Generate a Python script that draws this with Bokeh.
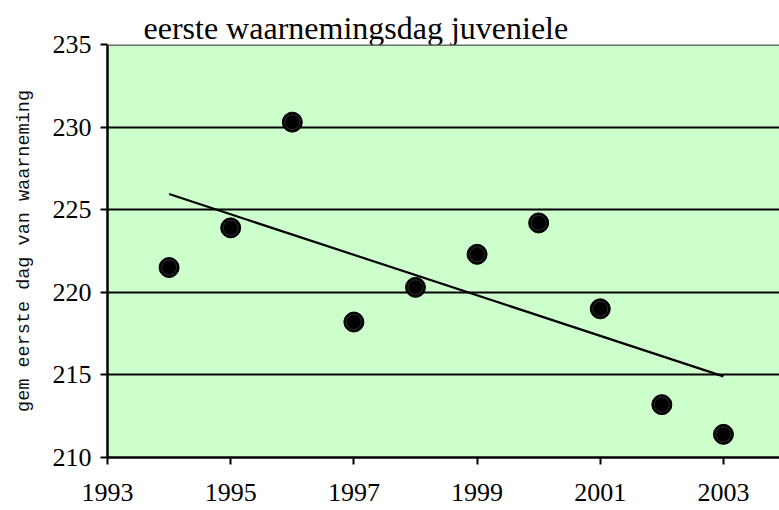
import numpy as np
from bokeh.plotting import figure
from bokeh.models import FixedTicker, Span, Range1d, Title
from bokeh.embed import file_html
from bokeh.resources import INLINE

years = [1994, 1995, 1996, 1997, 1998, 1999, 2000, 2001, 2002, 2003]
first_day = [221.5, 223.9, 230.3, 218.2, 220.3, 222.3, 224.2, 219.0, 213.2, 211.4]
x_ticks = [1993, 1995, 1997, 1999, 2001, 2003]
y_ticks = [210, 215, 220, 225, 230, 235]
title_text = "eerste waarnemingsdag juveniele"
y_label = "gem eerste dag van waarneming"

p = figure(width=779, height=510, output_backend="svg", toolbar_location=None,
           x_range=Range1d(1993, 2003.91), y_range=Range1d(210, 235),
           min_border_left=107, min_border_right=0, min_border_top=44, min_border_bottom=53)
p.background_fill_color = "#ccffcc"
p.border_fill_color = "white"
p.outline_line_color = None

t = Title(text=title_text, align="left", offset=36,
          text_font="Liberation Serif", text_font_size="32px",
          text_font_style="normal", text_color="black", standoff=-2)
p.add_layout(t, "above")
p.title.visible = False

# axes
for ax in (p.xaxis, p.yaxis):
    ax.axis_line_color = "black"
    ax.axis_line_width = 2.5
    ax.major_tick_line_color = "black"
    ax.major_tick_line_width = 2
    ax.major_tick_in = 0
    ax.major_tick_out = 7
    ax.minor_tick_line_color = None
    ax.major_label_text_font = "Liberation Serif"
    ax.major_label_text_font_size = "26px"
    ax.major_label_text_color = "black"
p.xaxis.ticker = FixedTicker(ticks=x_ticks)
p.yaxis.ticker = FixedTicker(ticks=y_ticks)
p.xaxis.major_label_standoff = 19
p.yaxis.major_label_standoff = 9
p.yaxis.axis_label = y_label
p.yaxis.axis_label_text_font = "Liberation Mono"
p.yaxis.axis_label_text_font_size = "18.5px"
p.yaxis.axis_label_text_font_style = "normal"
p.yaxis.axis_label_text_color = "#111111"
p.yaxis.axis_label_standoff = 15

p.xgrid.grid_line_color = None
p.ygrid.ticker = FixedTicker(ticks=[215, 220, 225, 230])
p.ygrid.grid_line_color = "black"
p.ygrid.grid_line_width = 2

p.add_layout(Span(location=235, dimension="width", line_color="#6e6e6e", line_width=3))

# trend line (least squares fit of the data)
coef = np.polyfit(years, first_day, 1)
tx = [years[0], years[-1]]
ty = [coef[0] * v + coef[1] for v in tx]
p.line(tx, ty, line_color="black", line_width=2.2)

p.scatter(years, first_day, size=20, fill_color="black", line_color="black", line_width=1)
p.scatter(years, first_day, size=15, fill_color=None, line_color="#3a3a3a", line_width=0.8)

open("out.html", "w").write(file_html(p, INLINE))
